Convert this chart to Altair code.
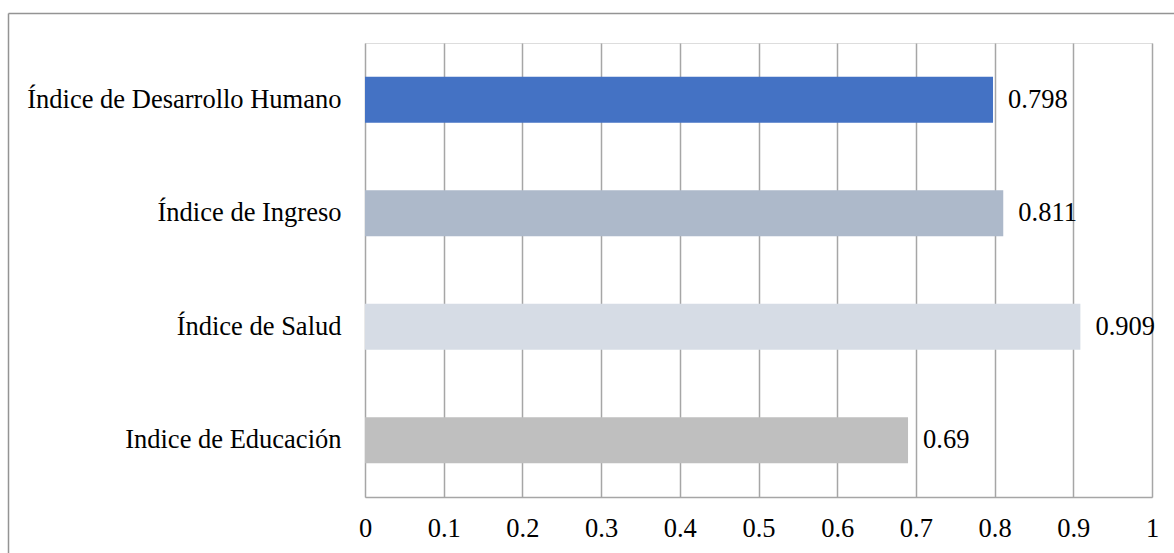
import altair as alt
import pandas as pd

# Component indices of the Human Development Index
categories = [
    "Índice de Desarrollo Humano",
    "Índice de Ingreso",
    "Índice de Salud",
    "Indice de Educación",
]
values = [0.798, 0.811, 0.909, 0.69]
colors = ["#4472C4", "#ADB9CA", "#D6DCE5", "#BFBFBF"]
x_ticks = [0, 0.1, 0.2, 0.3, 0.4, 0.5, 0.6, 0.7, 0.8, 0.9, 1]

FONT = "Liberation Serif"
FS = 26.5
GRID = "#A6A6A6"

df = pd.DataFrame({"categoria": categories, "valor": values, "color": colors})

base = alt.Chart(df).encode(
    y=alt.Y(
        "categoria:N",
        sort=categories,
        scale=alt.Scale(paddingInner=0.595, paddingOuter=0.2975),
        axis=alt.Axis(
            title=None, domain=False, ticks=False, grid=False,
            labelPadding=24, labelFont=FONT, labelFontSize=FS,
            labelColor="#000000", labelLimit=400,
        ),
    ),
)

bars = base.mark_bar().encode(
    x=alt.X(
        "valor:Q",
        scale=alt.Scale(domain=[0, 1], nice=False, zero=True),
        axis=alt.Axis(
            title=None, values=x_ticks, format="~g", ticks=False,
            domainColor=GRID, domainWidth=1.5, gridColor=GRID, gridWidth=1.5,
            labelPadding=18, labelFont=FONT, labelFontSize=FS,
            labelColor="#000000", labelFlush=False,
        ),
    ),
    color=alt.Color("color:N", scale=None, legend=None),
)

labels = base.mark_text(
    align="left", baseline="middle", dx=15,
    font=FONT, fontSize=FS, color="#000000",
).encode(
    x="valor:Q",
    text=alt.Text("valor:Q", format="~g"),
)

# Outer frame around the chart
frame_df = pd.DataFrame({"k": [0]})
frame_top = alt.Chart(frame_df).mark_rule(color="#949494", strokeWidth=1.5).encode(
    x=alt.value(-356.5), x2=alt.value(900), y=alt.value(-29.5)
)
frame_left = alt.Chart(frame_df).mark_rule(color="#949494", strokeWidth=1.5).encode(
    x=alt.value(-356.5), y=alt.value(-29.5), y2=alt.value(600)
)

chart = (
    alt.layer(bars, labels, frame_top, frame_left)
    .properties(
        width=787,
        height=454,
        autosize=alt.AutoSizeParams(type="none"),
        padding={"left": 365, "top": 43, "right": 22, "bottom": 56},
    )
    .configure_view(stroke=None)
    .configure(background="#FFFFFF")
)

chart.save("out.html", embed_options={"renderer": "svg", "actions": False})
